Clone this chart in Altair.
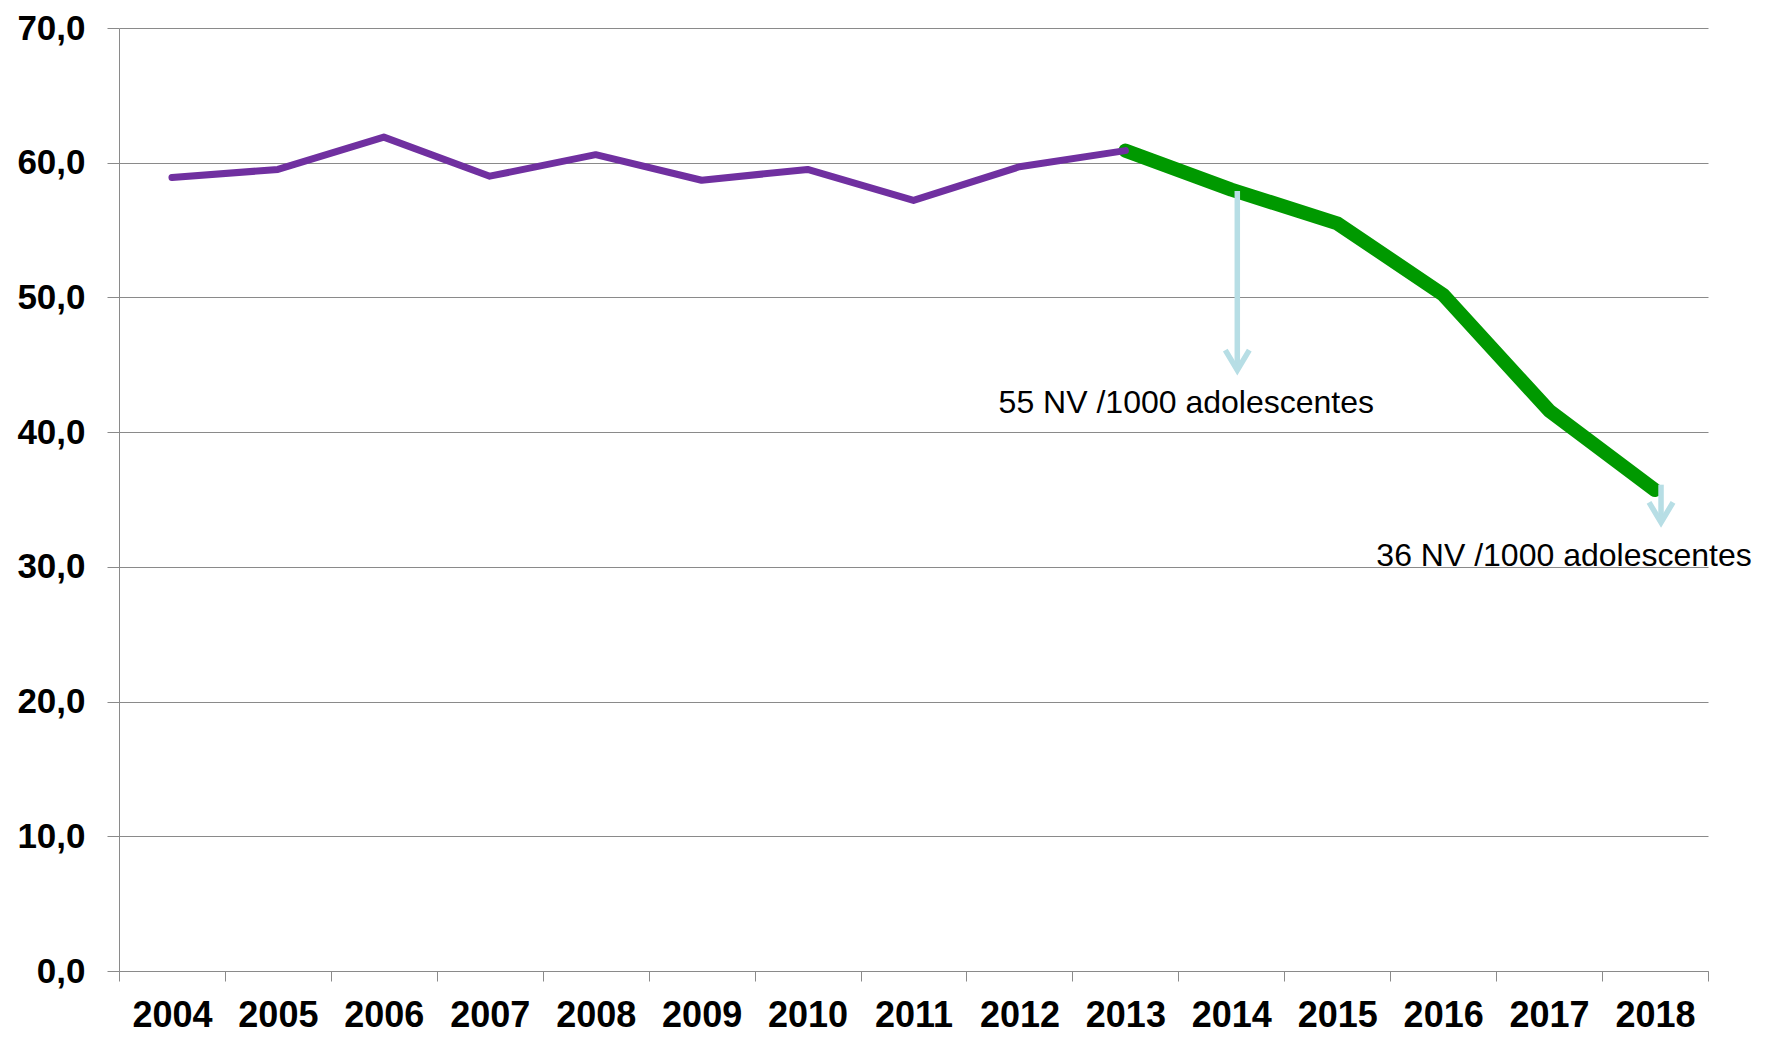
import altair as alt
import pandas as pd

years = ["2004", "2005", "2006", "2007", "2008", "2009", "2010", "2011",
         "2012", "2013", "2014", "2015", "2016", "2017", "2018"]
values = [58.9, 59.5, 61.9, 59.0, 60.6, 58.7, 59.5, 57.2, 59.7, 60.9,
          58.0, 55.5, 50.2, 41.6, 35.7]

hist_years = years[:10]
hist_values = values[:10]
proj_years = years[9:]
proj_values = values[9:]

ann_years = ["2014", "2018"]
ann_top = [57.9, 36.1]
ann_tip = [44.6, 33.3]
ann_text = ["55 NV /1000 adolescentes", "36 NV /1000 adolescentes"]
ann_text_y = [41.4, 30.1]
ann_text_dx = [-45, -91]

FONT = "Liberation Sans"
GRID = "#8a8a8a"

hist = pd.DataFrame({"year": hist_years, "v": hist_values})
proj = pd.DataFrame({"year": proj_years, "v": proj_values})
ann = pd.DataFrame({"year": ann_years, "top": ann_top, "tip": ann_tip})

xscale = alt.Scale(type="band", domain=years, paddingInner=0, paddingOuter=0)
yscale = alt.Scale(domain=[0, 70], nice=False, zero=True)

x_enc = alt.X(
    "year:O", scale=xscale, bandPosition=0.5, title=None,
    axis=alt.Axis(
        tickBand="extent", labelAngle=0, labelFont=FONT, labelFontSize=36,
        labelFontWeight="bold", labelColor="black", labelPadding=17,
        tickSize=10, tickColor=GRID, domainColor=GRID, grid=False,
        labelBaseline="top",
    ),
)
y_enc = alt.Y(
    "v:Q", scale=yscale, title=None,
    axis=alt.Axis(
        values=[0, 10, 20, 30, 40, 50, 60, 70],
        labelExpr="replace(format(datum.value, '.1f'), '.', ',')",
        labelFont=FONT, labelFontSize=35, labelFontWeight="bold",
        labelColor="black", labelPadding=22, tickSize=12, tickColor=GRID,
        domainColor=GRID, gridColor=GRID, gridWidth=1, grid=True,
    ),
)

green = alt.Chart(proj).mark_line(
    color="#009900", strokeWidth=14, strokeCap="round", strokeJoin="round"
).encode(x=x_enc, y=y_enc)

purple = alt.Chart(hist).mark_line(
    color="#7030A0", strokeWidth=7, strokeCap="round", strokeJoin="round"
).encode(x=alt.X("year:O", scale=xscale, bandPosition=0.5), y=alt.Y("v:Q", scale=yscale))

arrow_color = "#b7dee5"
shafts = alt.Chart(ann).mark_rule(
    color=arrow_color, strokeWidth=5.5, xOffset=6
).encode(
    x=alt.X("year:O", scale=xscale, bandPosition=0.5),
    y=alt.Y("top:Q", scale=yscale),
    y2="tip:Q",
)
heads = alt.Chart(ann).mark_point(
    shape="M-1,-1.67L0,0L1,-1.67", filled=False, color=arrow_color,
    strokeWidth=5.5, size=576, opacity=1, xOffset=6, strokeJoin="miter",
).encode(
    x=alt.X("year:O", scale=xscale, bandPosition=0.5),
    y=alt.Y("tip:Q", scale=yscale),
)

texts = []
for yr, t, ty, dx in zip(ann_years, ann_text, ann_text_y, ann_text_dx):
    df = pd.DataFrame({"year": [yr], "t": [t], "ty": [ty]})
    texts.append(
        alt.Chart(df).mark_text(
            font=FONT, fontSize=32, color="black", align="center",
            baseline="alphabetic", dx=dx,
        ).encode(
            x=alt.X("year:O", scale=xscale, bandPosition=0.5),
            y=alt.Y("ty:Q", scale=yscale),
            text="t:N",
        )
    )

chart = alt.layer(green, purple, shafts, heads, *texts).properties(
    width=1589, height=943,
    autosize=alt.AutoSizeParams(type="none"),
    padding={"left": 111, "top": 20, "right": 50, "bottom": 62},
).configure(background="white").configure_view(stroke=None)

chart.save("out.html", embed_options={"renderer": "svg", "actions": False})
